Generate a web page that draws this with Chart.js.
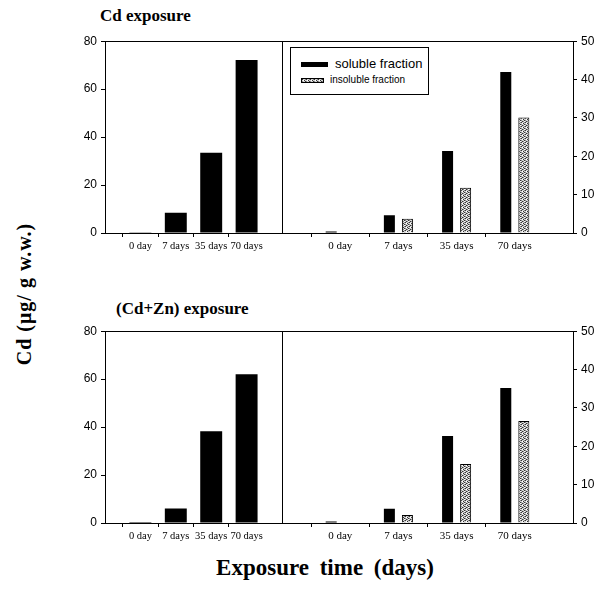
<!DOCTYPE html>
<html>
<head>
<meta charset="utf-8">
<script src="https://cdn.jsdelivr.net/npm/chart.js"></script>
<style>
  body { margin: 0; background: #fff; }
  #page { position: relative; width: 605px; height: 599px; overflow: hidden; }
  canvas { position: absolute; }
  .txt { position: absolute; font-family: "Liberation Serif", serif; font-weight: bold; color: #000; white-space: nowrap; }
  #legend { position: absolute; left: 290px; top: 47px; width: 137px; height: 46px; border: 1px solid #000; background: #fff;
            font-family: "Liberation Sans", Arial, sans-serif; color: #000; }
  .sw { position: absolute; }
  .lg { position: absolute; white-space: nowrap; }
</style>
</head>
<body>
<div id="page">
  <div class="txt" style="left:100px; top:6px; font-size:17px;">Cd exposure</div>
  <div class="txt" style="left:116px; top:299px; font-size:17px;">(Cd+Zn) exposure</div>
  <div class="txt" style="left:24px; top:294px; font-size:20px; letter-spacing:1px; transform: translate(-50%, -50%) rotate(-90deg);">Cd (μg/ g w.w.)</div>
  <div class="txt" style="left:325px; top:568px; font-size:23px; word-spacing:5px; transform: translate(-50%, -50%);">Exposure time (days)</div>

  <canvas id="cdTotalChart" width="232" height="230" style="left:55px; top:30px;"></canvas>
  <canvas id="cdFracChart" width="328" height="230" style="left:277px; top:30px;"></canvas>
  <canvas id="cdznTotalChart" width="232" height="230" style="left:55px; top:320px;"></canvas>
  <canvas id="cdznFracChart" width="328" height="230" style="left:277px; top:320px;"></canvas>

  <div id="legend">
    <div class="sw" style="left:10px; top:14px; width:27px; height:5px; background:#000;"></div>
    <div class="lg" style="left:44px; top:8px; font-size:13px;">soluble fraction</div>
    <div class="sw" id="legendStipple" style="left:10px; top:30px; width:21px; height:3px; border:1px solid #000;"></div>
    <div class="lg" style="left:39px; top:26px; font-size:10px;">insoluble fraction</div>
  </div>
</div>

<script>
// 데이터
const days = ['0 day', '7 days', '35 days', '70 days'];
const cdTotal = [0.3, 8.4, 33.5, 72.2];
const cdSoluble = [0.4, 4.6, 21.4, 42.0];
const cdInsoluble = [0.1, 3.7, 11.8, 30.1];
const cdznTotal = [0.4, 6.1, 38.3, 62.0];
const cdznSoluble = [0.4, 3.7, 22.7, 35.2];
const cdznInsoluble = [0.1, 2.1, 15.4, 26.6];
const totalTicks = [0, 20, 40, 60, 80];
const fracTicks = [0, 10, 20, 30, 40, 50];

// 양 끝에 빈 칸을 둔 카테고리
const labels = ['', ...days, ''];
const pad = arr => [null, ...arr, null];

// 유틸리티 함수: 점무늬 패턴
function makeStipple() {
    const c = document.createElement('canvas');
    c.width = 4;
    c.height = 4;
    const g = c.getContext('2d');
    g.fillStyle = '#d4d4d4';
    g.fillRect(0, 0, 4, 4);
    g.fillStyle = '#333';
    [[0, 0], [2, 1], [1, 3], [3, 2]].forEach(([x, y]) => g.fillRect(x, y, 1, 1));
    g.fillStyle = '#888';
    [[2, 3], [0, 2], [3, 0]].forEach(([x, y]) => g.fillRect(x, y, 1, 1));
    g.fillStyle = '#fff';
    [[1, 1], [3, 3]].forEach(([x, y]) => g.fillRect(x, y, 1, 1));
    return c;
}
const stippleCanvas = makeStipple();
document.getElementById('legendStipple').style.background = `url(${stippleCanvas.toDataURL()})`;

// 플롯 테두리
const frame = {
    id: 'frame',
    afterDatasetsDraw(chart) {
        const { ctx, chartArea: a } = chart;
        ctx.save();
        ctx.strokeStyle = '#000';
        ctx.lineWidth = 1;
        ctx.strokeRect(Math.round(a.left) + 0.5, Math.round(a.top) + 0.5,
            Math.round(a.right - a.left), Math.round(a.bottom - a.top));
        ctx.restore();
    }
};

function xScale(fontSize) {
    return {
        type: 'category',
        offset: false,
        afterFit(scale) { scale.height = 27; },
        grid: {
            drawOnChartArea: false, drawTicks: true, tickLength: 4,
            color: c => (c.index === 0 || c.index === labels.length - 1) ? 'rgba(0,0,0,0)' : '#000'
        },
        border: { display: false },
        ticks: {
            autoSkip: false, maxRotation: 0, padding: 3, color: '#000',
            font: { family: 'Liberation Serif', size: fontSize }
        }
    };
}

function yScale(position, max, ticks, width) {
    return {
        position,
        min: 0,
        max,
        afterFit(scale) { scale.width = width; },
        afterBuildTicks(scale) { scale.ticks = ticks.map(v => ({ value: v })); },
        grid: { drawOnChartArea: false, drawTicks: true, tickLength: 4, color: '#000' },
        border: { display: false },
        ticks: {
            padding: 4, color: '#000',
            font: { family: 'Liberation Sans', size: 12 }
        }
    };
}

function totalChart(id, values) {
    const ctx = document.getElementById(id).getContext('2d');
    return new Chart(ctx, {
        type: 'bar',
        data: {
            labels,
            datasets: [{
                data: pad(values),
                backgroundColor: '#000',
                categoryPercentage: 1,
                barPercentage: 0.62
            }]
        },
        options: {
            responsive: false,
            animation: false,
            devicePixelRatio: 1,
            layout: { padding: { top: 10, right: 5, left: 0, bottom: 0 } },
            plugins: { legend: { display: false }, tooltip: { enabled: false } },
            scales: {
                x: xScale(10.5),
                y: yScale('left', 80, totalTicks, 50)
            }
        },
        plugins: [frame]
    });
}

function fracChart(id, soluble, insoluble) {
    const ctx = document.getElementById(id).getContext('2d');
    const stipple = ctx.createPattern(stippleCanvas, 'repeat');
    return new Chart(ctx, {
        type: 'bar',
        data: {
            labels,
            datasets: [{
                label: 'soluble fraction',
                data: pad(soluble),
                backgroundColor: '#000',
                categoryPercentage: 0.62,
                barPercentage: 0.61
            }, {
                label: 'insoluble fraction',
                data: pad(insoluble),
                backgroundColor: stipple,
                borderColor: '#000',
                borderWidth: 1,
                categoryPercentage: 0.62,
                barPercentage: 0.61
            }]
        },
        options: {
            responsive: false,
            animation: false,
            devicePixelRatio: 1,
            layout: { padding: { top: 10, right: 0, left: 5, bottom: 0 } },
            plugins: { legend: { display: false }, tooltip: { enabled: false } },
            scales: {
                x: xScale(11),
                y: yScale('right', 50, fracTicks, 32)
            }
        },
        plugins: [frame]
    });
}

totalChart('cdTotalChart', cdTotal);
fracChart('cdFracChart', cdSoluble, cdInsoluble);
totalChart('cdznTotalChart', cdznTotal);
fracChart('cdznFracChart', cdznSoluble, cdznInsoluble);
</script>
</body>
</html>
